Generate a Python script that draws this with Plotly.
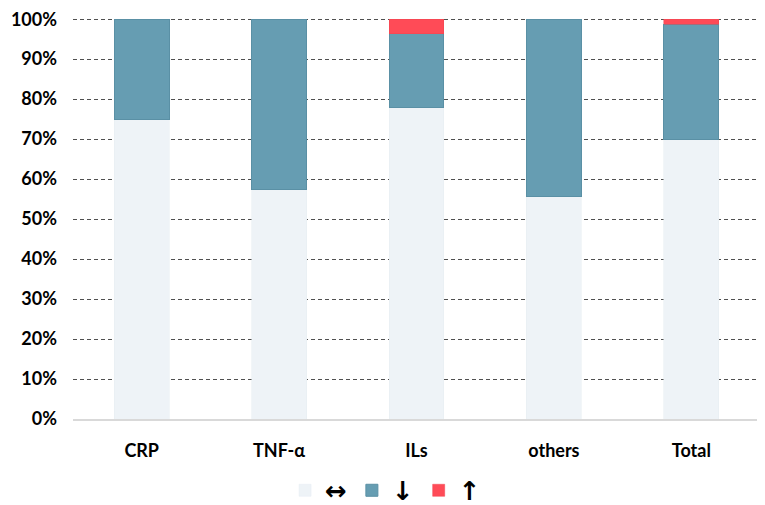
import plotly.graph_objects as go

categories = ["CRP", "TNF-α", "ILs", "others", "Total"]
unchanged = [75.0, 57.3, 78.0, 55.7, 70.0]
decreased = [25.0, 42.7, 18.4, 44.3, 28.8]
increased = [None, None, 3.6, None, 1.2]
y_ticks = [0, 10, 20, 30, 40, 50, 60, 70, 80, 90, 100]
y_labels = [f"{v}%" for v in y_ticks]

fnt = "Lato, 'Open Sans', sans-serif"

fig = go.Figure()
fig.add_trace(go.Bar(
    x=categories, y=unchanged, name="↔",
    marker=dict(color="#EEF3F7", line=dict(color="#E6EDF2", width=0.5)),
))
fig.add_trace(go.Bar(
    x=categories, y=decreased, name="↓",
    marker=dict(color="#669DB2", line=dict(color="#5A90A5", width=1)),
))
fig.add_trace(go.Bar(
    x=categories, y=increased, name="↑",
    marker=dict(color="#FF4B57", line=dict(color="#F04550", width=0.5)),
))

# page body has an 8px margin, so offsets are shifted to land on the reference
fig.update_layout(
    barmode="stack",
    bargap=0.6,
    width=765, height=505,
    margin=dict(l=65, r=13, t=10, b=94, autoexpand=False),
    paper_bgcolor="white",
    plot_bgcolor="white",
    font=dict(family=fnt, size=18, color="black", weight="bold"),
    showlegend=True,
    legend=dict(
        orientation="h", x=0.455, xanchor="center", y=-0.178, yanchor="middle",
        font=dict(size=26, family="DejaVu Sans", color="black", weight="bold"),
        itemwidth=30, traceorder="normal",
    ),
    xaxis=dict(
        showgrid=False, showline=True, linecolor="#D9D9D9", linewidth=2,
        tickfont=dict(size=18, family=fnt, color="black", weight="bold"),
        ticks="", ticklabelstandoff=14,
    ),
    yaxis=dict(
        range=[0, 100.3], tickvals=y_ticks, ticktext=y_labels,
        showgrid=True, gridcolor="#505050", griddash="4px,3px", gridwidth=1,
        zeroline=False, showline=False,
        tickfont=dict(size=18, family=fnt, color="black", weight="bold"),
        ticklabelstandoff=15, ticklabeloverflow="allow",
    ),
)

fig.write_html("out.html")
